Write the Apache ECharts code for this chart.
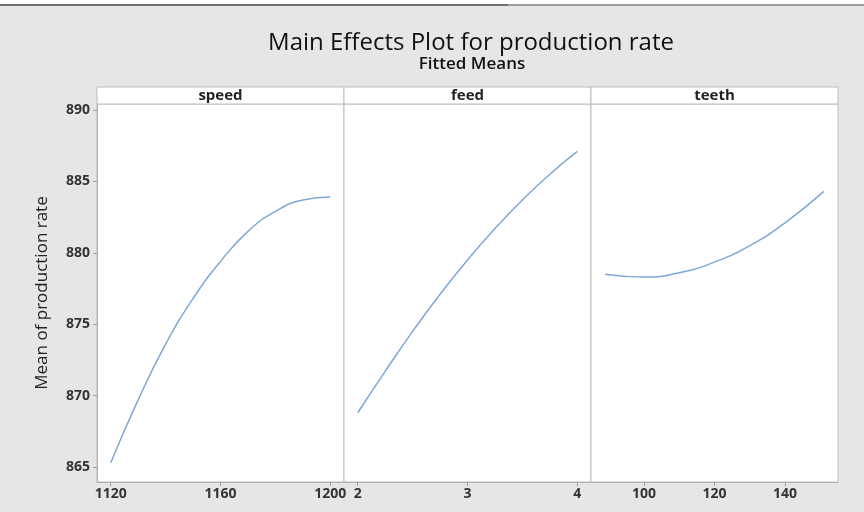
<!DOCTYPE html>
<html>
<head>
<meta charset="utf-8">
<script src="https://cdn.jsdelivr.net/npm/echarts@6/dist/echarts.min.js"></script>
<style>
html,body{margin:0;padding:0;background:#e6e6e6;}
#chart{width:864px;height:512px;}
</style>
</head>
<body>
<div id="chart"></div>
<script>
// ---- data ----
const panelNames = ['speed', 'feed', 'teeth'];

const speedX = [1120, 1130, 1140, 1150, 1160, 1170, 1180, 1190, 1200];
const speedY = [865.3, 869.7, 873.6, 876.8, 879.4, 881.5, 882.9, 883.7, 883.9];

const feedX = [2, 2.25, 2.5, 2.75, 3, 3.25, 3.5, 3.75, 4];
const feedY = [868.8, 871.7, 874.5, 877.1, 879.5, 881.7, 883.7, 885.5, 887.1];

const teethX = [89, 100, 110, 120, 130, 140, 151];
const teethY = [878.5, 878.3, 878.6, 879.35, 880.5, 882.1, 884.3];

const yTicks = [865, 870, 875, 880, 885, 890];
const speedTicks = [1120, 1160, 1200];
const feedTicks = [2, 3, 4];
const teethTicks = [100, 120, 140];

// ---- chart ----
const chart = echarts.init(document.getElementById('chart'));
const FONT = '"Open Sans", "Noto Sans", sans-serif';
const LEFT = 97, PW = 247, TOP = 104, PH = 378;
const lineColor = '#7fa7d6';

const xRanges = [[1115, 1205], [1.875, 4.125], [85, 155]];
const xTickSets = [speedTicks, feedTicks, teethTicks];
const dataSets = [[speedX, speedY], [feedX, feedY], [teethX, teethY]];

const grids = [], xAxes = [], yAxes = [], series = [], graphics = [];

graphics.push({type: 'rect', shape: {x: 0, y: 0, width: 864, height: 4}, style: {fill: '#ffffff'}, silent: true});
graphics.push({type: 'rect', shape: {x: 0, y: 4, width: 508, height: 2}, style: {fill: '#707070'}, silent: true});
graphics.push({type: 'rect', shape: {x: 508, y: 4, width: 356, height: 2}, style: {fill: '#9c9c9c'}, silent: true});

for (let i = 0; i < 3; i++) {
  const left = LEFT + PW * i;
  grids.push({
    left: left, top: TOP, width: PW, height: PH,
    show: true, backgroundColor: '#ffffff', borderColor: '#bdbdbd', borderWidth: 1
  });
  xAxes.push({
    type: 'value', gridIndex: i,
    min: xRanges[i][0], max: xRanges[i][1],
    axisLine: {show: true, lineStyle: {color: '#b0b0b0'}},
    axisTick: {show: true, length: 4, lineStyle: {color: '#a0a0a0'}, customValues: xTickSets[i]},
    axisLabel: {show: true, customValues: xTickSets[i], formatter: v => String(v),
      color: '#333', fontFamily: FONT, fontSize: 14, fontWeight: 700, margin: 5},
    splitLine: {show: false}
  });
  yAxes.push({
    type: 'value', gridIndex: i,
    min: 863.95, max: 890.42,
    name: i === 0 ? 'Mean of production rate' : '',
    nameLocation: 'middle', nameGap: 46,
    nameTextStyle: {color: '#222', fontFamily: FONT, fontSize: 17},
    axisLine: {show: i === 0, lineStyle: {color: '#b0b0b0'}},
    axisTick: {show: i === 0, length: 4, lineStyle: {color: '#a0a0a0'}, customValues: yTicks},
    axisLabel: {show: i === 0, customValues: yTicks, formatter: v => String(v),
      color: '#333', fontFamily: FONT, fontSize: 14, fontWeight: 700, margin: 7},
    splitLine: {show: false}
  });
  const [xs, ys] = dataSets[i];
  series.push({
    type: 'line', xAxisIndex: i, yAxisIndex: i,
    data: xs.map((x, k) => [x, ys[k]]),
    smooth: true, showSymbol: false, symbol: 'none',
    lineStyle: {color: lineColor, width: 1.5},
    silent: true, animation: false
  });
  graphics.push({
    type: 'rect', shape: {x: left, y: 87, width: PW, height: 17},
    style: {fill: '#ffffff', stroke: '#bdbdbd', lineWidth: 1}, silent: true
  });
  graphics.push({
    type: 'text', x: left + PW / 2, y: 95.5,
    style: {text: panelNames[i], fill: '#222', font: '700 15px ' + FONT, textAlign: 'center', textVerticalAlign: 'middle'},
    silent: true
  });
}

chart.setOption({
  backgroundColor: '#e6e6e6',
  animation: false,
  title: [
    {text: 'Main Effects Plot for production rate', left: 466, top: 26, textAlign: 'center',
     textStyle: {color: '#111', fontFamily: FONT, fontSize: 24, fontWeight: 400}},
    {text: 'Fitted Means', left: 467, top: 51, textAlign: 'center',
     textStyle: {color: '#111', fontFamily: FONT, fontSize: 17, fontWeight: 600}}
  ],
  grid: grids,
  xAxis: xAxes,
  yAxis: yAxes,
  series: series,
  graphic: graphics
});
</script>
</body>
</html>
